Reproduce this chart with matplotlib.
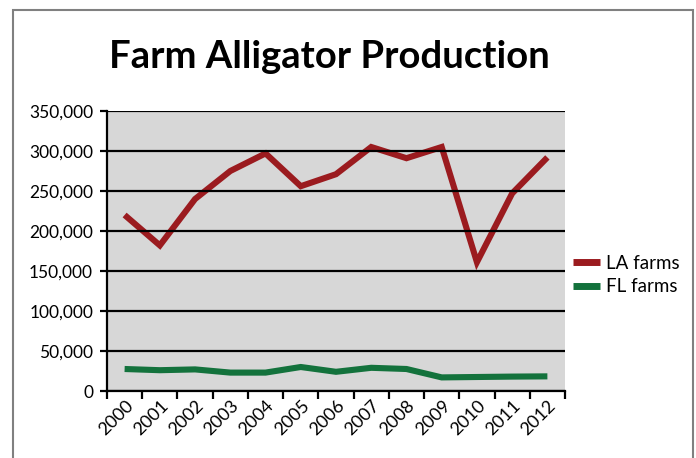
import numpy as np
import matplotlib
matplotlib.use("Agg")
import matplotlib.pyplot as plt
import matplotlib.transforms as mtransforms
from matplotlib.patches import Rectangle
from matplotlib.ticker import FuncFormatter, FixedLocator

years = ["2000", "2001", "2002", "2003", "2004", "2005", "2006",
         "2007", "2008", "2009", "2010", "2011", "2012"]
la_farms = [220000, 182000, 240000, 275000, 297000, 256000, 271000,
            305000, 291000, 305000, 161000, 247000, 292000]
fl_farms = [27500, 26000, 27000, 23000, 23000, 30000, 24000,
            29000, 27500, 17000, 17500, 18000, 18300]

plt.rcParams['font.family'] = ['Lato', 'DejaVu Sans']

fig = plt.figure(figsize=(6.96, 4.58), dpi=100)
ax = fig.add_axes([107/696, 67/458, 458/696, 280/458])

# outer frame of the picture
fig.patches.append(Rectangle((13/696, -0.1), 680/696, 1.1 - 10/458,
                             transform=fig.transFigure, fill=False,
                             edgecolor='#808080', linewidth=1.5))

x = np.arange(len(years))
ax.set_facecolor('#d7d7d7')
ax.plot(x, la_farms, color='#9b1b1f', linewidth=4.4, solid_capstyle='butt',
        solid_joinstyle='miter', label='LA farms')
ax.plot(x, fl_farms, color='#13723c', linewidth=4.4, solid_capstyle='butt',
        solid_joinstyle='miter', label='FL farms')

ax.set_xlim(-0.5, len(years) - 0.5)
ax.set_ylim(0, 350000)
ax.set_yticks(np.arange(0, 350001, 50000))
ax.yaxis.set_major_formatter(FuncFormatter(lambda v, p: f"{int(v):,}"))
ax.grid(axis='y', color='black', linewidth=1.6)
ax.set_axisbelow(False)

ax.xaxis.set_major_locator(FixedLocator(np.arange(-0.5, len(years), 1.0)))
ax.xaxis.set_minor_locator(FixedLocator(x))
ax.set_xticklabels([], minor=False)
ax.set_xticklabels(years, minor=True, rotation=45, ha='right', va='center',
                   rotation_mode='anchor', fontsize=13)
ax.tick_params(axis='x', which='major', length=6, width=1.6, color='black')
ax.tick_params(axis='x', which='minor', length=0, pad=9)
ax.tick_params(axis='y', length=5, width=1.6, labelsize=12.5, pad=5)
shift = mtransforms.ScaledTranslation(6/100, 0, fig.dpi_scale_trans)
for lab in ax.get_xticklabels(minor=True):
    lab.set_transform(lab.get_transform() + shift)

for s in ['top', 'right']:
    ax.spines[s].set_visible(False)
for s in ['left', 'bottom']:
    ax.spines[s].set_linewidth(1.6)
    ax.spines[s].set_color('black')

fig.text(0.4734, 1 - 68/458, "Farm Alligator Production", ha='center', va='baseline',
         fontsize=27.5, fontweight='bold')

leg = ax.legend(loc='center left', bbox_to_anchor=(573/696, 1 - 275/458),
                bbox_transform=fig.transFigure, frameon=False, fontsize=13.5,
                borderpad=0, borderaxespad=0,
                handlelength=1.45, handletextpad=0.32, labelspacing=0.35)
for h in leg.get_lines():
    h.set_linewidth(5)

fig.savefig("out.png", dpi=100)
